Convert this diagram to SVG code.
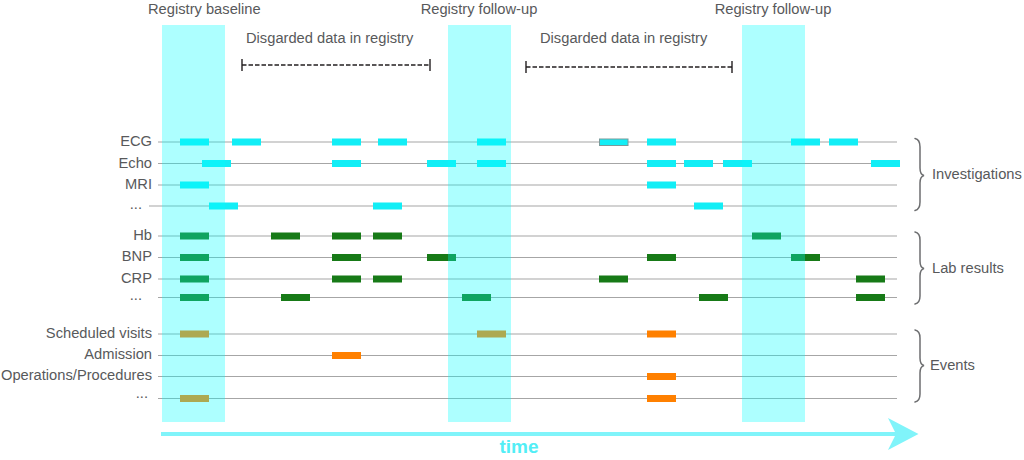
<svg xmlns="http://www.w3.org/2000/svg" width="1024" height="460" viewBox="0 0 1024 460">
<defs>
<style>
.lbl{font-family:"Liberation Sans",Arial,sans-serif;font-size:14.7px;fill:#58595b}
.r{text-anchor:end}
.row{stroke:#a6a6a6;stroke-width:1.2;fill:none}
.c{fill:#12eef6}
.g{fill:#177a17}
.o{fill:#ff8000}
.col{fill:#00ffff;fill-opacity:0.32}
.brace{fill:none;stroke:#6d6e70;stroke-width:1.5;stroke-linecap:round}
.brk{stroke:#231f20;stroke-width:1.4;fill:none}
</style>
</defs>
<rect width="1024" height="460" fill="#ffffff"/>

<g id="top-labels">
<text class="lbl" x="148" y="14">Registry baseline</text>
<text class="lbl" x="479" y="14" text-anchor="middle">Registry follow-up</text>
<text class="lbl" x="773" y="14" text-anchor="middle">Registry follow-up</text>
</g>

<g id="discarded-1">
<text class="lbl" x="246" y="43">Disgarded data in registry</text>
<line class="brk" x1="242" y1="65" x2="430" y2="65" stroke-dasharray="4.5 2"/>
<line class="brk" x1="242" y1="59" x2="242" y2="71"/>
<line class="brk" x1="430" y1="59" x2="430" y2="71"/>
</g>
<g id="discarded-2">
<text class="lbl" x="540" y="43">Disgarded data in registry</text>
<line class="brk" x1="526" y1="67" x2="732" y2="67" stroke-dasharray="4.5 2"/>
<line class="brk" x1="526" y1="61" x2="526" y2="73"/>
<line class="brk" x1="732" y1="61" x2="732" y2="73"/>
</g>

<g id="row-labels">
<text class="lbl r" x="152" y="146">ECG</text>
<text class="lbl r" x="152" y="167.5">Echo</text>
<text class="lbl r" x="152" y="189">MRI</text>
<text class="lbl r" x="142" y="209">...</text>
<text class="lbl r" x="152" y="239.5">Hb</text>
<text class="lbl r" x="152" y="261">BNP</text>
<text class="lbl r" x="152" y="282.5">CRP</text>
<text class="lbl r" x="142" y="300">...</text>
<text class="lbl r" x="152" y="337.5">Scheduled visits</text>
<text class="lbl r" x="152" y="358.5">Admission</text>
<text class="lbl r" x="152" y="379.5">Operations/Procedures</text>
<text class="lbl r" x="148" y="398">...</text>
</g>

<g id="connectors">
<line class="row" x1="158" y1="142" x2="897" y2="142"/>
<line class="row" x1="158" y1="163.5" x2="897" y2="163.5"/>
<line class="row" x1="158" y1="185" x2="897" y2="185"/>
<line class="row" x1="149" y1="206" x2="897" y2="206"/>
<line class="row" x1="158" y1="236" x2="897" y2="236"/>
<line class="row" x1="158" y1="257.5" x2="897" y2="257.5"/>
<line class="row" x1="158" y1="279" x2="897" y2="279"/>
<line class="row" x1="158" y1="297.5" x2="897" y2="297.5"/>
<line class="row" x1="158" y1="334" x2="897" y2="334"/>
<line class="row" x1="158" y1="355.5" x2="897" y2="355.5"/>
<line class="row" x1="158" y1="376.5" x2="897" y2="376.5"/>
<line class="row" x1="158" y1="398.5" x2="897" y2="398.5"/>
</g>

<g id="investigations-bars">
<rect class="c" x="180" y="138.5" width="29" height="7"/>
<rect class="c" x="232" y="138.5" width="29" height="7"/>
<rect class="c" x="332" y="138.5" width="29" height="7"/>
<rect class="c" x="378" y="138.5" width="29" height="7"/>
<rect class="c" x="477" y="138.5" width="29" height="7"/>
<rect class="c" x="599.5" y="139" width="28.5" height="6.5" stroke="#7a9a9a" stroke-width="1"/>
<rect class="c" x="647" y="138.5" width="29" height="7"/>
<rect class="c" x="791" y="138.5" width="29" height="7"/>
<rect class="c" x="829" y="138.5" width="29" height="7"/>

<rect class="c" x="202" y="160" width="29" height="7"/>
<rect class="c" x="332" y="160" width="29" height="7"/>
<rect class="c" x="427" y="160" width="29" height="7"/>
<rect class="c" x="477" y="160" width="29" height="7"/>
<rect class="c" x="647" y="160" width="29" height="7"/>
<rect class="c" x="684" y="160" width="29" height="7"/>
<rect class="c" x="723" y="160" width="29" height="7"/>
<rect class="c" x="871" y="160" width="29" height="7"/>

<rect class="c" x="180" y="181.5" width="29" height="7"/>
<rect class="c" x="647" y="181.5" width="29" height="7"/>

<rect class="c" x="209" y="202.5" width="29" height="7"/>
<rect class="c" x="373" y="202.5" width="29" height="7"/>
<rect class="c" x="694" y="202.5" width="29" height="7"/>
</g>

<g id="lab-bars">
<rect class="g" x="180" y="232.5" width="29" height="7"/>
<rect class="g" x="271" y="232.5" width="29" height="7"/>
<rect class="g" x="332" y="232.5" width="29" height="7"/>
<rect class="g" x="373" y="232.5" width="29" height="7"/>
<rect class="g" x="752" y="232.5" width="29" height="7"/>

<rect class="g" x="180" y="254" width="29" height="7"/>
<rect class="g" x="332" y="254" width="29" height="7"/>
<rect class="g" x="427" y="254" width="29" height="7"/>
<rect class="g" x="647" y="254" width="29" height="7"/>
<rect class="g" x="791" y="254" width="29" height="7"/>

<rect class="g" x="180" y="275.5" width="29" height="7"/>
<rect class="g" x="332" y="275.5" width="29" height="7"/>
<rect class="g" x="373" y="275.5" width="29" height="7"/>
<rect class="g" x="599" y="275.5" width="29" height="7"/>
<rect class="g" x="856" y="275.5" width="29" height="7"/>

<rect class="g" x="180" y="294" width="29" height="7"/>
<rect class="g" x="281" y="294" width="29" height="7"/>
<rect class="g" x="462" y="294" width="29" height="7"/>
<rect class="g" x="699" y="294" width="29" height="7"/>
<rect class="g" x="856" y="294" width="29" height="7"/>
</g>

<g id="event-bars">
<rect class="o" x="180" y="330.5" width="29" height="7"/>
<rect class="o" x="477" y="330.5" width="29" height="7"/>
<rect class="o" x="647" y="330.5" width="29" height="7"/>
<rect class="o" x="332" y="352" width="29" height="7"/>
<rect class="o" x="647" y="373" width="29" height="7"/>
<rect class="o" x="180" y="395" width="29" height="7"/>
<rect class="o" x="647" y="395" width="29" height="7"/>
</g>

<g id="registry-columns">
<rect class="col" x="162" y="25" width="63" height="397"/>
<rect class="col" x="448" y="25" width="63" height="397"/>
<rect class="col" x="742" y="25" width="63" height="397"/>
</g>

<g id="group-investigations">
<path class="brace" d="M915,138.5 Q920,139.5 920,147 L920,168 Q920,174.5 924,175.5 Q920,176.5 920,183 L920,202 Q920,209.5 915,210.5"/>
<text class="lbl" x="932" y="179">Investigations</text>
</g>
<g id="group-lab">
<path class="brace" d="M915,232 Q920,233 920,240 L920,261 Q920,267.5 924,268.5 Q920,269.5 920,276 L920,296 Q920,303 915,304"/>
<text class="lbl" x="932" y="273">Lab results</text>
</g>
<g id="group-events">
<path class="brace" d="M915,330 Q920,331 920,338 L920,358 Q920,364.5 924,365.5 Q920,366.5 920,373 L920,394 Q920,401 915,402"/>
<text class="lbl" x="930" y="370">Events</text>
</g>

<g id="time-axis">
<line x1="161" y1="434" x2="898" y2="434" stroke="#80f4fa" stroke-width="4"/>
<polygon points="918.5,434 888,418 896,434 888,450" fill="#80f4fa"/>
<text x="519" y="453" text-anchor="middle" font-family="'Liberation Sans',Arial,sans-serif" font-weight="bold" font-size="19" fill="#52eef6">time</text>
</g>
</svg>
